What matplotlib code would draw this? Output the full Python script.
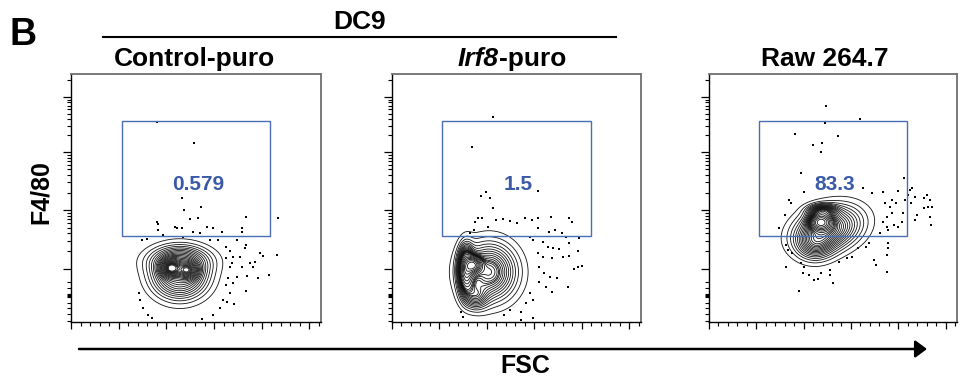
import numpy as np
import matplotlib
matplotlib.use("Agg")
import matplotlib.pyplot as plt
from matplotlib.patches import Rectangle, FancyArrowPatch
from matplotlib.lines import Line2D

plt.rcParams['font.family'] = ['Liberation Sans', 'DejaVu Sans']

# ---------------- data (x: FSC in thousands, y: F4/80 display scale) -------------
TITLES = ["Control-puro", "Irf8-puro", "Raw 264.7"]
GATE_PCT = ["0.579", "1.5", "83.3"]
GATE_X = [53, 209]
GATE_Y = [86, 201]
GATE_LABEL_POS = [133, 137]

# Gaussian population components (centre, spread, correlation, weight) per sample
CTRL_MX = [114, 114, 105, 122]
CTRL_MY = [47, 62, 54, 52]
CTRL_SX = [18, 21, 6, 6]
CTRL_SY = [14.5, 9, 5, 5]
CTRL_RHO = [0, 0, 0, 0]
CTRL_W = [1.0, 0.3, 0.25, 0.2]

IRF8_MX = [102, 78, 86, 88]
IRF8_MY = [50, 52, 57, 25]
IRF8_SX = [18, 5, 5, 8]
IRF8_SY = [18, 14, 5, 8]
IRF8_RHO = [0, 0, 0, 0]
IRF8_W = [1.0, 0.35, 0.15, 0.1]

RAW_MX = [126, 118, 120, 112]
RAW_MY = [93, 100, 111, 78]
RAW_SX = [21, 7, 9, 12]
RAW_SY = [14, 5, 4, 10]
RAW_RHO = [0.25, 0, 0, 0]
RAW_W = [1.0, 0.25, 0.1, 0.2]

# outlier events
CTRL_DX = [90, 129, 116, 119, 136, 125, 133, 184, 217, 90, 91, 109, 111, 116, 143, 149, 128, 135,
           158, 179, 179, 91, 96, 117, 146, 154, 174, 184, 182, 163, 167, 170, 177, 201, 198, 216,
           169, 179, 188, 193, 191, 208, 185, 196, 174, 170, 183, 167, 159, 164, 171, 156, 149,
           137, 72, 71, 75, 81, 85, 74, 80, 163, 167, 165, 163]
CTRL_DY = [200, 179, 124, 112, 115, 103, 104, 105, 104, 100, 98, 95, 94, 94, 95, 94, 90, 89,
           90, 94, 90, 92, 87, 85, 82, 82, 82, 77, 74, 75, 71, 65, 65, 66, 69, 67,
           59, 55, 59, 60, 55, 47, 46, 44, 45, 39, 31, 29, 22, 20, 18, 14, 7,
           3, 22, 29, 14, 7, 4, 82, 83, 64, 55, 44, 37]

IRF8_DX = [106, 84, 154, 99, 94, 103, 106, 87, 91, 95, 101, 110, 117, 124, 132, 140, 147, 154,
           167, 186, 190, 154, 165, 172, 179, 183, 197, 145, 148, 159, 164, 170, 176, 186, 154,
           159, 168, 180, 186, 196, 196, 200, 192, 155, 160, 166, 174, 155, 162, 168, 185, 145,
           148, 141, 136, 124, 118, 136, 148, 73, 75, 82, 86]
IRF8_DY = [205, 175, 131, 130, 126, 124, 114, 100, 104, 104, 95, 102, 103, 101, 99, 104, 102, 104,
           105, 104, 100, 94, 90, 92, 89, 85, 84, 85, 82, 80, 75, 74, 73, 79, 69,
           65, 64, 65, 66, 71, 55, 56, 53, 55, 49, 45, 44, 40, 35, 30, 35, 29,
           22, 19, 10, 12, 7, 2, 4, 10, 5, 89, 92]

RAW_DX = [124, 160, 123, 91, 136, 110, 119, 118, 97, 206, 100, 163, 172, 184, 200, 212, 215, 210,
          218, 227, 230, 234, 236, 232, 227, 214, 207, 205, 220, 218, 234, 235, 204, 200, 196,
          189, 186, 191, 193, 188, 193, 198, 184, 188, 181, 169, 166, 189, 189, 188, 174, 176,
          188, 158, 151, 146, 137, 128, 128, 131, 118, 111, 106, 99, 100, 97, 95, 81, 81, 83,
          88, 74, 80, 85, 87, 115]
RAW_DY = [216, 203, 199, 188, 186, 177, 179, 170, 149, 144, 130, 134, 129, 130, 131, 132, 134, 127,
          125, 124, 127, 122, 115, 115, 114, 119, 122, 109, 107, 102, 105, 97, 100, 95, 97,
          92, 119, 115, 109, 105, 122, 119, 100, 95, 89, 79, 75, 79, 74, 67, 62, 57,
          50, 74, 65, 64, 60, 52, 47, 39, 49, 42, 47, 49, 55, 59, 31, 55, 77, 72,
          69, 94, 107, 122, 119, 43]

# axis tick positions (F4/80 display scale: decades 1e2..1e5, plus the compressed region)
DECADE_POS = [53, 112, 170, 225]
LOW_TICKS = [1, 8, 14, 19, 25, 26, 27, 28, 34, 40]
FSC_MAX = 262.144
PROB_STEP = 0.04   # probability-contour spacing

# ------------------------------------------------------------------------------
W, H = 964, 381
fig = plt.figure(figsize=(W / 100, H / 100), dpi=100)


def axrect(l, t, r, b):
    return [l / W, 1 - b / H, (r - l) / W, (b - t) / H]


AX_BOXES = [(71, 74, 321, 322), (392, 74, 641, 322), (709, 74, 957, 322)]
MODELS = [
    (CTRL_MX, CTRL_MY, CTRL_SX, CTRL_SY, CTRL_RHO, CTRL_W, CTRL_DX, CTRL_DY),
    (IRF8_MX, IRF8_MY, IRF8_SX, IRF8_SY, IRF8_RHO, IRF8_W, IRF8_DX, IRF8_DY),
    (RAW_MX, RAW_MY, RAW_SX, RAW_SY, RAW_RHO, RAW_W, RAW_DX, RAW_DY),
]

y_minor = []
for i in range(len(DECADE_POS)):
    d0 = DECADE_POS[i]
    step = (DECADE_POS[i + 1] - d0) if i + 1 < len(DECADE_POS) else (DECADE_POS[i] - DECADE_POS[i - 1])
    for k in range(2, 10):
        v = d0 + np.log10(k) * step
        if v < 248:
            y_minor.append(v)
y_minor += LOW_TICKS

xg = np.linspace(0, FSC_MAX, 600)
yg = np.linspace(0, 248, 600)
XX, YY = np.meshgrid(xg, yg)
fracs = np.arange(PROB_STEP, 0.99, PROB_STEP)

for idx, (box, mdl) in enumerate(zip(AX_BOXES, MODELS)):
    ax = fig.add_axes(axrect(*box))
    mx, my, sx, sy, rho, w, dx, dy = mdl
    Z = np.zeros_like(XX)
    for a, b, c, d, r, ww in zip(mx, my, sx, sy, rho, w):
        u = (XX - a) / c
        v = (YY - b) / d
        q = (u * u - 2 * r * u * v + v * v) / (1 - r * r)
        Z += ww / (c * d * np.sqrt(1 - r * r)) * np.exp(-0.5 * q)
    zf = np.sort(Z.ravel())[::-1]
    cs = np.cumsum(zf)
    cs /= cs[-1]
    levels = np.unique(zf[np.searchsorted(cs, fracs)])
    ax.contour(XX, YY, Z, levels=levels, colors='#111111', linewidths=0.6)
    ax.scatter(dx, dy, s=2.2, marker='s', color='black', linewidths=0)

    ax.add_patch(Rectangle((GATE_X[0], GATE_Y[0]), GATE_X[1] - GATE_X[0], GATE_Y[1] - GATE_Y[0],
                           fill=False, edgecolor='#4a6cb5', linewidth=1.0, zorder=5))
    ax.text(GATE_LABEL_POS[0], GATE_LABEL_POS[1], GATE_PCT[idx], color='#3a5aa8',
            fontsize=15, fontweight='bold', ha='center', va='center', zorder=6)

    ax.set_xlim(0, FSC_MAX)
    ax.set_ylim(0, 248)
    ax.set_xticks(np.arange(0, 251, 50))
    ax.set_xticks(np.arange(0, 261, 10), minor=True)
    ax.set_yticks(DECADE_POS)
    ax.set_yticks(y_minor, minor=True)
    ax.set_xticklabels([])
    ax.set_yticklabels([])
    ax.tick_params(axis='both', which='major', direction='out', length=5, width=0.9, color='black')
    ax.tick_params(axis='both', which='minor', direction='out', length=2.6, width=0.8, color='black')
    ax.tick_params(axis='y', which='major', length=6)
    for s in ['top', 'right']:
        ax.spines[s].set_color('#707070')
        ax.spines[s].set_linewidth(1.3)
    for s in ['left', 'bottom']:
        ax.spines[s].set_color('black')
        ax.spines[s].set_linewidth(1.0)

# titles
fig.text(114 / W, 1 - 66 / H, TITLES[0], fontsize=19, fontweight='bold', ha='left', va='baseline')
t_it = fig.text(458 / W, 1 - 66 / H, "Irf8", fontsize=19, fontweight='bold', style='italic',
                ha='left', va='baseline')
fig.add_artist(plt.Annotation("-puro", xy=(1, 0), xycoords=t_it, fontsize=19, fontweight='bold',
                              ha='left', va='bottom'))
fig.text(761 / W, 1 - 66 / H, TITLES[2], fontsize=19, fontweight='bold', ha='left', va='baseline')

fig.text(360 / W, 1 - 29 / H, "DC9", fontsize=19, fontweight='bold', ha='center', va='baseline')
fig.add_artist(Line2D([103 / W, 616 / W], [1 - 37 / H, 1 - 37 / H], color='black', lw=1.5))

fig.text(10 / W, 1 - 45 / H, "B", fontsize=27, fontweight='bold', ha='left', va='baseline')

fig.text(41 / W, 1 - 192 / H, "F4/80", fontsize=18, fontweight='bold', rotation=90,
         ha='center', va='center')
fig.text(525 / W, 1 - 373 / H, "FSC", fontsize=18, fontweight='bold', ha='center', va='baseline')

fig.add_artist(FancyArrowPatch((79 / W, 1 - 349 / H), (927 / W, 1 - 349 / H),
                               transform=fig.transFigure,
                               arrowstyle='-|>,head_length=7,head_width=5.2',
                               mutation_scale=1, lw=1.8, color='black',
                               shrinkA=0, shrinkB=0))

fig.savefig("out.png", dpi=100)
